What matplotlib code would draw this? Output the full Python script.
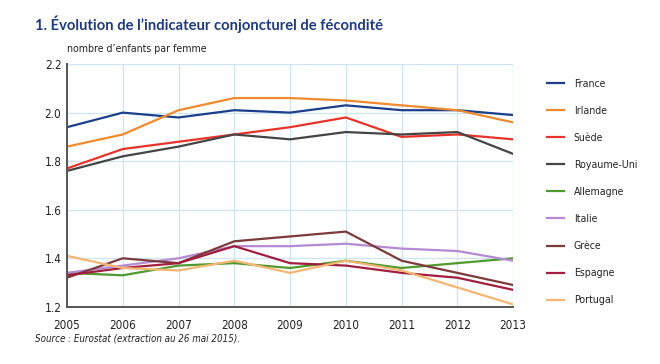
import numpy as np
import matplotlib.pyplot as plt

plt.rcParams['font.stretch'] = 'condensed'

years = [2005, 2006, 2007, 2008, 2009, 2010, 2011, 2012, 2013]

countries = ['France', 'Irlande', 'Suède', 'Royaume-Uni', 'Allemagne',
             'Italie', 'Grèce', 'Espagne', 'Portugal']

france = [1.94, 2.00, 1.98, 2.01, 2.00, 2.03, 2.01, 2.01, 1.99]
irlande = [1.86, 1.91, 2.01, 2.06, 2.06, 2.05, 2.03, 2.01, 1.96]
suede = [1.77, 1.85, 1.88, 1.91, 1.94, 1.98, 1.90, 1.91, 1.89]
royaume_uni = [1.76, 1.82, 1.86, 1.91, 1.89, 1.92, 1.91, 1.92, 1.83]
allemagne = [1.34, 1.33, 1.37, 1.38, 1.36, 1.39, 1.36, 1.38, 1.40]
italie = [1.34, 1.37, 1.40, 1.45, 1.45, 1.46, 1.44, 1.43, 1.39]
grece = [1.32, 1.40, 1.38, 1.47, 1.49, 1.51, 1.39, 1.34, 1.29]
espagne = [1.33, 1.36, 1.38, 1.45, 1.38, 1.37, 1.34, 1.32, 1.27]
portugal = [1.41, 1.36, 1.35, 1.39, 1.34, 1.39, 1.35, 1.28, 1.21]

series = [france, irlande, suede, royaume_uni, allemagne,
          italie, grece, espagne, portugal]
colors = ['#1c3f8c', '#f08a2c', '#e8332b', '#454545', '#4f9a2e',
          '#b58ad4', '#7d3a3a', '#a21d3e', '#f6b573']

fig = plt.figure(figsize=(6.6, 3.64), dpi=100)
ax = fig.add_axes([0.1015, 0.157, 0.676, 0.667])

for vals, c, name in zip(series, colors, countries):
    ax.plot(years, vals, color=c, lw=1.6, label=name)

ax.set_xlim(2005, 2013)
ax.set_ylim(1.2, 2.2)
ax.set_xticks(years)
ax.set_yticks([1.2, 1.4, 1.6, 1.8, 2.0, 2.2])
ax.set_yticklabels(['1.2', '1.4', '1.6', '1.8', '2.0', '2.2'])
ax.grid(True, color='#cfe6f0', lw=0.9)
ax.set_axisbelow(True)
for s in ['top', 'right']:
    ax.spines[s].set_visible(False)
for s in ['left', 'bottom']:
    ax.spines[s].set_color('#555555')
    ax.spines[s].set_linewidth(1.4)
ax.tick_params(length=0, labelsize=8.5, colors='#222222', pad=4)
ax.tick_params(axis='x', pad=9)

leg = ax.legend(loc='upper left', bbox_to_anchor=(0.815, 0.81),
                bbox_transform=fig.transFigure, frameon=False,
                fontsize=7.6, handlelength=1.6, handletextpad=0.9,
                labelspacing=1.62)
for t in leg.get_texts():
    t.set_color('#222222')

fig.text(0.053, 0.917, "1. Évolution de l\u2019indicateur conjoncturel de fécondité",
         fontsize=10.6, fontweight='bold', color='#1e3b7e', family='Lato',
         stretch='normal')
fig.text(0.1015, 0.857, "nombre d\u2019enfants par femme", fontsize=7.6, color='#222222')
fig.text(0.053, 0.063, "Source : Eurostat (extraction au 26 mai 2015).",
         fontsize=7, style='italic', color='#222222')

plt.savefig('out.png', dpi=100)
